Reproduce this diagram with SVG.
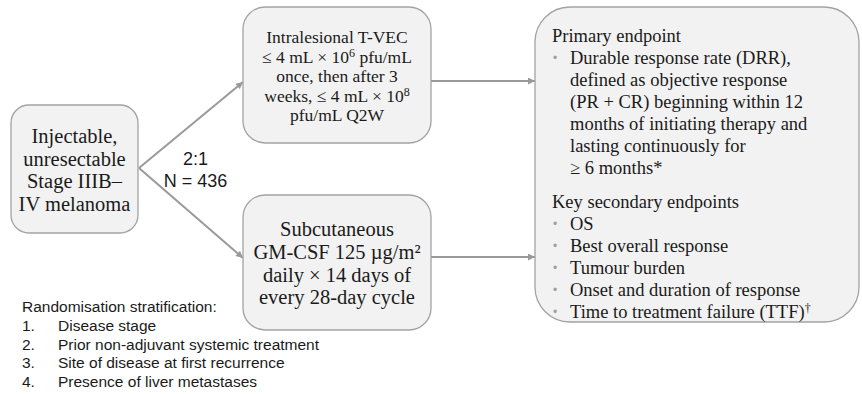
<svg xmlns="http://www.w3.org/2000/svg" width="862" height="394" viewBox="0 0 862 394">
  <defs>
    <marker id="arrow" viewBox="0 0 10 10" refX="10" refY="5" markerWidth="8" markerHeight="7" markerUnits="userSpaceOnUse" orient="auto">
      <path d="M0,0 L10,5 L0,10 Z" fill="#9a9a9a"/>
    </marker>
    <style>
      .box { fill: #f2f2f2; stroke: #a3a3a3; stroke-width: 1.3; }
      .serif { font-family: "Liberation Serif", "Times New Roman", serif; fill: #1a1a1a; }
      .big { font-size: 20.5px; text-anchor: middle; }
      .mid { font-size: 17.5px; text-anchor: middle; }
      .ep { font-size: 18.5px; }
      .dot { font-family: "Liberation Sans", sans-serif; font-size: 12px; fill: #a0a0a0; }
      .sans { font-family: "Liberation Sans", Arial, sans-serif; fill: #1a1a1a; }
      .conn { stroke: #9a9a9a; stroke-width: 2; fill: none; marker-end: url(#arrow); }
    </style>
  </defs>
  <rect width="862" height="394" fill="#ffffff"/>

  <!-- connectors -->
  <g id="connectors">
    <path class="conn" d="M139,168 L243,82"/>
    <path class="conn" d="M139,168 L243,258"/>
    <path class="conn" d="M431,81 L535,81"/>
    <path class="conn" d="M431,257 L535,257"/>
  </g>

  <!-- population -->
  <g id="population">
    <rect class="box" x="11" y="105" width="127" height="128" rx="18"/>
    <text class="serif big" x="74.5" y="143">Injectable,</text>
    <text class="serif big" x="74.5" y="165.5">unresectable</text>
    <text class="serif big" x="74.5" y="188">Stage IIIB–</text>
    <text class="serif big" x="74.5" y="210.5">IV melanoma</text>
  </g>

  <!-- randomisation ratio -->
  <g id="ratio">
    <text class="sans" x="195.5" y="165" font-size="18" text-anchor="middle">2:1</text>
    <text class="sans" x="195.5" y="187" font-size="18" text-anchor="middle">N = 436</text>
  </g>

  <!-- T-VEC arm -->
  <g id="arm-tvec">
    <rect class="box" x="243" y="7" width="188" height="136" rx="22"/>
    <text class="serif mid" x="337" y="43">Intralesional T-VEC</text>
    <text class="serif mid" x="337" y="62.5">≤ 4 mL × 10<tspan dy="-6" font-size="12">6</tspan><tspan dy="6"> pfu/mL</tspan></text>
    <text class="serif mid" x="337" y="82">once, then after 3</text>
    <text class="serif mid" x="337" y="101.5">weeks, ≤ 4 mL × 10<tspan dy="-6" font-size="12">8</tspan></text>
    <text class="serif mid" x="337" y="121">pfu/mL Q2W</text>
  </g>

  <!-- GM-CSF arm -->
  <g id="arm-gmcsf">
    <rect class="box" x="243" y="195" width="188" height="135" rx="22"/>
    <text class="serif big" x="337" y="236">Subcutaneous</text>
    <text class="serif big" x="337" y="259">GM-CSF 125 µg/m²</text>
    <text class="serif big" x="337" y="281.5">daily × 14 days of</text>
    <text class="serif big" x="337" y="304">every 28-day cycle</text>
  </g>

  <!-- endpoints -->
  <g id="endpoints">
    <rect class="box" x="535" y="7" width="324" height="315" rx="35"/>
    <text class="serif ep" x="552" y="42">Primary endpoint</text>
    <text class="dot" x="553" y="62">•</text>
    <text class="serif ep" x="570" y="64">Durable response rate (DRR),</text>
    <text class="serif ep" x="570" y="86">defined as objective response</text>
    <text class="serif ep" x="570" y="108">(PR + CR) beginning within 12</text>
    <text class="serif ep" x="570" y="130">months of initiating therapy and</text>
    <text class="serif ep" x="570" y="152">lasting continuously for</text>
    <text class="serif ep" x="570" y="174">≥ 6 months*</text>
    <text class="serif ep" x="552" y="208">Key secondary endpoints</text>
    <text class="dot" x="553" y="228">•</text>
    <text class="serif ep" x="570" y="230">OS</text>
    <text class="dot" x="553" y="250">•</text>
    <text class="serif ep" x="570" y="252">Best overall response</text>
    <text class="dot" x="553" y="272">•</text>
    <text class="serif ep" x="570" y="274">Tumour burden</text>
    <text class="dot" x="553" y="294">•</text>
    <text class="serif ep" x="570" y="296">Onset and duration of response</text>
    <text class="dot" x="553" y="316">•</text>
    <text class="serif ep" x="570" y="318">Time to treatment failure (TTF)<tspan dy="-6" font-size="12">†</tspan></text>
  </g>

  <!-- stratification factors -->
  <g id="stratification" class="sans" font-size="15.5">
    <text x="22" y="312">Randomisation stratification:</text>
    <text x="22" y="331">1.</text><text x="58" y="331">Disease stage</text>
    <text x="22" y="349.5">2.</text><text x="58" y="349.5">Prior non-adjuvant systemic treatment</text>
    <text x="22" y="368">3.</text><text x="58" y="368">Site of disease at first recurrence</text>
    <text x="22" y="386.5">4.</text><text x="58" y="386.5">Presence of liver metastases</text>
  </g>
</svg>
